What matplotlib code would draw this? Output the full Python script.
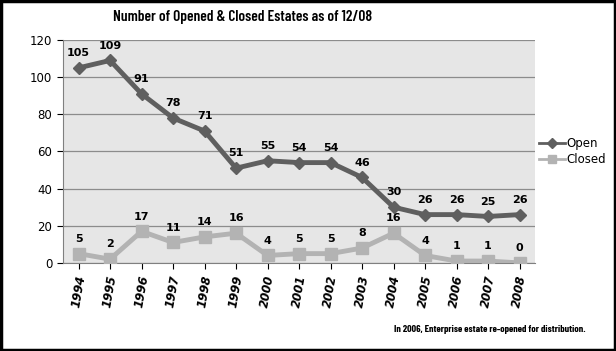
import matplotlib
matplotlib.use("Agg")
import matplotlib.pyplot as plt
from matplotlib.patches import Rectangle
from matplotlib.lines import Line2D

years = ["1994", "1995", "1996", "1997", "1998", "1999", "2000", "2001",
         "2002", "2003", "2004", "2005", "2006", "2007", "2008"]
open_vals = [105, 109, 91, 78, 71, 51, 55, 54, 54, 46, 30, 26, 26, 25, 26]
closed_vals = [5, 2, 17, 11, 14, 16, 4, 5, 5, 8, 16, 4, 1, 1, 0]

fig = plt.figure(figsize=(6.16, 3.51), dpi=100)
fig.patch.set_facecolor("white")
fig.patches.append(Rectangle((0.002, 0.003), 0.996, 0.994, transform=fig.transFigure,
                             fill=False, edgecolor="black", linewidth=2.5))

ax = fig.add_axes([0.102, 0.251, 0.767, 0.635])
ax.set_facecolor("#e6e6e6")
x = list(range(len(years)))
ax.set_xlim(-0.5, len(years) - 0.5)
ax.set_ylim(0, 120)
ax.set_yticks(range(0, 121, 20))
ax.yaxis.grid(True, color="#8c8c8c", linewidth=0.9)
ax.set_axisbelow(True)

ax.plot(x, open_vals, color="#5f5f5f", linewidth=3.5, marker="D", markersize=6, zorder=3)
ax.plot(x, closed_vals, color="#b3b3b3", linewidth=3.5, marker="s", markersize=8, zorder=3)

for xi, v in zip(x, open_vals):
    ax.annotate(str(v), (xi, v), xytext=(0, 7), textcoords="offset points",
                ha="center", va="bottom", fontsize=8, fontweight="bold")
for xi, v in zip(x, closed_vals):
    ax.annotate(str(v), (xi, v), xytext=(0, 7), textcoords="offset points",
                ha="center", va="bottom", fontsize=8, fontweight="bold")

ax.set_xticks(x)
ax.set_xticklabels(years, rotation=80, fontsize=8.5, fontweight="bold", style="italic")
ax.tick_params(axis="x", length=4, pad=4)
ax.tick_params(axis="y", length=4, labelsize=8.5)
for s in ["top", "right"]:
    ax.spines[s].set_visible(False)
ax.spines["left"].set_color("#808080")
ax.spines["bottom"].set_color("#808080")

handles = [Line2D([], [], color="#5f5f5f", linewidth=2, marker="D", markersize=5),
           Line2D([], [], color="#b3b3b3", linewidth=2, marker="s", markersize=6)]
ax.legend(handles, ["Open", "Closed"], loc="center left", bbox_to_anchor=(0.985, 0.5),
          frameon=False, fontsize=8.5, handlelength=2.2, handletextpad=0.1, labelspacing=0.3)

fig.text(0.394, 0.952, "Number of Opened & Closed Estates as of 12/08", ha="center",
         va="center", fontsize=11, fontweight="semibold", family="Barlow Condensed")
fig.text(0.95, 0.06, "In 2006, Enterprise estate re-opened for distribution.",
         ha="right", va="center", fontsize=7.2, fontweight="bold",
         family="Barlow Condensed")

fig.savefig("out.png", dpi=100)
